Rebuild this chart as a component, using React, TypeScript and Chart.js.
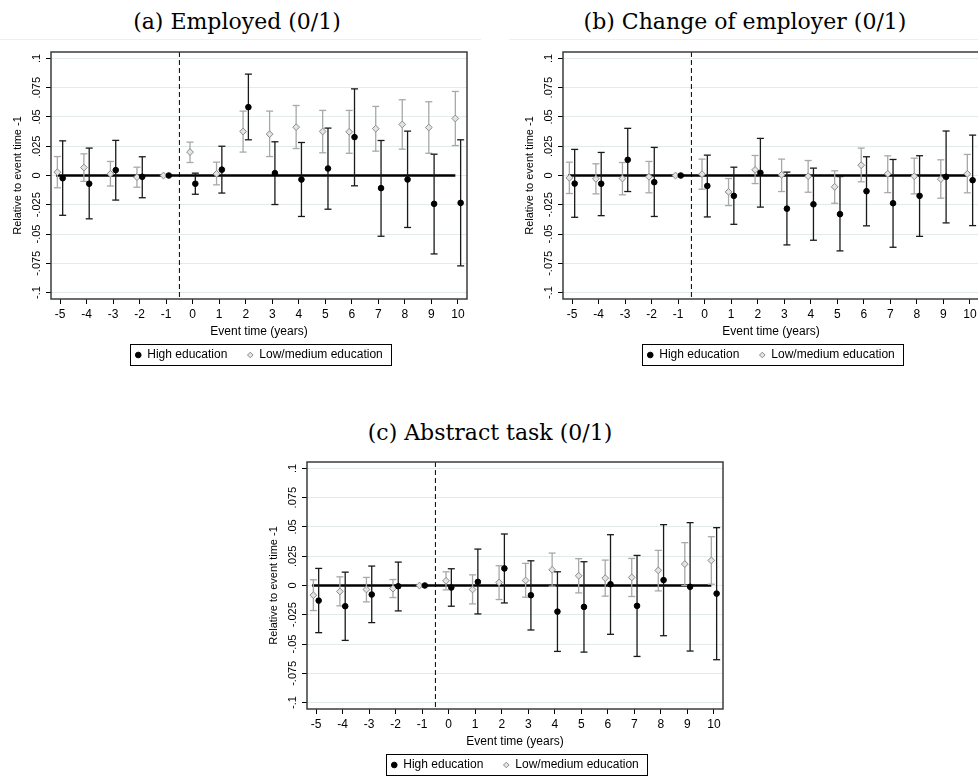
import { useEffect, useRef } from "react";
import { Chart, registerables } from "chart.js";

Chart.register(...registerables);

// event time (years) relative to the event
const EVENT_TIME = [-5, -4, -3, -2, -1, 0, 1, 2, 3, 4, 5, 6, 7, 8, 9, 10];
const Y_TICKS = [-0.1, -0.075, -0.05, -0.025, 0, 0.025, 0.05, 0.075, 0.1];
const TREATMENT_LINE = -0.5;
const ZERO_LINE_X = [-5.15, 9.9];
const HIGH_OFFSET = 0.1;
const LOW_OFFSET = -0.1;

// (a) Employed (0/1)
const EMP_HIGH = [-0.0023, -0.007, 0.0046, -0.0011, 0, -0.007, 0.005, 0.0584, 0.002, -0.0034, 0.006, 0.0328, -0.0108, -0.0034, -0.0242, -0.0234];
const EMP_HIGH_LO = [-0.034, -0.037, -0.021, -0.019, 0, -0.016, -0.015, 0.0305, -0.0248, -0.035, -0.0288, -0.0088, -0.0519, -0.0444, -0.067, -0.0772];
const EMP_HIGH_HI = [0.0296, 0.0234, 0.03, 0.016, 0, 0.002, 0.025, 0.0866, 0.0288, 0.0282, 0.0405, 0.074, 0.0299, 0.0379, 0.0182, 0.0305];
const EMP_LOW = [0.0028, 0.0068, 0.0014, -0.0014, 0, 0.02, 0.0014, 0.0376, 0.0353, 0.0413, 0.0376, 0.0373, 0.04, 0.0436, 0.041, 0.0487];
const EMP_LOW_LO = [-0.0105, -0.005, -0.009, -0.01, 0, 0.0111, -0.008, 0.02, 0.0162, 0.023, 0.0194, 0.019, 0.0208, 0.0225, 0.019, 0.0256];
const EMP_LOW_HI = [0.0162, 0.0185, 0.012, 0.0071, 0, 0.0285, 0.0114, 0.055, 0.055, 0.0598, 0.0556, 0.0556, 0.059, 0.0647, 0.063, 0.0718];

// (b) Change of employer (0/1)
const CHG_HIGH = [-0.0069, -0.007, 0.0134, -0.0057, 0, -0.0089, -0.0174, 0.0023, -0.0283, -0.0246, -0.033, -0.0134, -0.0237, -0.0174, -0.0011, -0.004];
const CHG_HIGH_LO = [-0.0357, -0.0343, -0.0137, -0.035, 0, -0.0354, -0.0417, -0.027, -0.0593, -0.0553, -0.0644, -0.043, -0.0613, -0.052, -0.0405, -0.0428];
const CHG_HIGH_HI = [0.0223, 0.0197, 0.0403, 0.024, 0, 0.0174, 0.0071, 0.0317, 0.0029, 0.0063, -0.0009, 0.016, 0.0137, 0.0169, 0.038, 0.0345];
const CHG_LOW = [-0.002, -0.0029, -0.0026, -0.0011, 0, 0.0011, -0.014, 0.0048, 0.0006, -0.0006, -0.0097, 0.0088, 0.0014, -0.0006, -0.0031, 0.0014];
const CHG_LOW_LO = [-0.0154, -0.0157, -0.0165, -0.0148, 0, -0.0117, -0.0257, -0.0069, -0.0137, -0.0143, -0.0237, -0.0054, -0.0146, -0.0157, -0.0194, -0.0148];
const CHG_LOW_HI = [0.0114, 0.01, 0.0111, 0.012, 0, 0.014, -0.0026, 0.0171, 0.014, 0.0128, 0.004, 0.0234, 0.0168, 0.0148, 0.0134, 0.018];

// (c) Abstract task (0/1)
const ABS_HIGH = [-0.0129, -0.0177, -0.0077, -0.0006, 0, -0.0017, 0.0031, 0.0146, -0.0083, -0.0223, -0.0183, 0.0011, -0.0174, 0.0046, -0.0011, -0.0069];
const ABS_HIGH_LO = [-0.0403, -0.0469, -0.0317, -0.0217, 0, -0.0177, -0.0243, -0.0149, -0.038, -0.0563, -0.0569, -0.0417, -0.0606, -0.0429, -0.056, -0.0634];
const ABS_HIGH_HI = [0.0146, 0.0114, 0.0166, 0.02, 0, 0.0143, 0.0311, 0.044, 0.0211, 0.0117, 0.0203, 0.0434, 0.0257, 0.052, 0.0537, 0.0494];
const ABS_LOW = [-0.0083, -0.0051, -0.0034, -0.0026, 0, 0.004, -0.0034, 0.0026, 0.0043, 0.0134, 0.0083, 0.0063, 0.0069, 0.0129, 0.0183, 0.0214];
const ABS_LOW_LO = [-0.0214, -0.0174, -0.014, -0.0103, 0, -0.0037, -0.0157, -0.012, -0.01, -0.0006, -0.0063, -0.0091, -0.0094, -0.0046, 0.0, 0.0011];
const ABS_LOW_HI = [0.0049, 0.0074, 0.0069, 0.0051, 0, 0.0117, 0.0091, 0.0169, 0.0189, 0.0277, 0.0229, 0.0217, 0.0231, 0.03, 0.0366, 0.0417];

const SANS = '"Liberation Sans", Arial, Helvetica, sans-serif';
const AXIS_W = 51;
const PAD_TOP = 12;
const CANVAS_W = 518;
const CANVAS_H = 331;

function errorBars(offset: number, lo: number[], hi: number[]) {
  return EVENT_TIME.flatMap((t, i) =>
    hi[i] > lo[i]
      ? [
          { x: t + offset, y: lo[i] },
          { x: t + offset, y: hi[i] },
          { x: t + offset, y: null },
        ]
      : []
  );
}

function fmtY(v: number) {
  if (v === 0) return "0";
  return (v < 0 ? "-" : "") + String(Math.abs(v)).replace(/^0/, "");
}

const decorPlugin = {
  id: "decor",
  beforeDatasetsDraw(chart: any) {
    const { ctx, chartArea, scales } = chart;
    const x = scales.x.getPixelForValue(TREATMENT_LINE);
    ctx.save();
    ctx.setLineDash([5, 3]);
    ctx.strokeStyle = "#000";
    ctx.lineWidth = 1;
    ctx.beginPath();
    ctx.moveTo(x, chartArea.top);
    ctx.lineTo(x, chartArea.bottom);
    ctx.stroke();
    ctx.restore();
  },
  afterDraw(chart: any) {
    const { ctx, chartArea } = chart;
    ctx.save();
    ctx.strokeStyle = "#3c3c3c";
    ctx.lineWidth = 1.5;
    ctx.strokeRect(chartArea.left, chartArea.top, chartArea.right - chartArea.left, chartArea.bottom - chartArea.top);
    const boxes = chart.legend?.legendHitBoxes || [];
    if (boxes.length) {
      const first = boxes[0];
      const last = boxes[boxes.length - 1];
      const left = first.left - 5;
      const right = last.left + last.width + 9;
      const top = first.top - 5;
      const h = first.height + 9;
      ctx.strokeStyle = "#000";
      ctx.lineWidth = 1;
      ctx.strokeRect(Math.round(left) + 0.5, Math.round(top) + 0.5, Math.round(right - left), Math.round(h));
    }
    ctx.restore();
  },
};

type PanelProps = {
  title: string;
  plotLeft: number;
  plotTop: number;
  titleCenter: number;
  titleTop: number;
  rule?: [number, number];
  high: number[];
  highLo: number[];
  highHi: number[];
  low: number[];
  lowLo: number[];
  lowHi: number[];
};

function Panel(p: PanelProps) {
  const canvasRef = useRef<HTMLCanvasElement>(null);
  const chartRef = useRef<Chart | null>(null);

  useEffect(() => {
    if (!canvasRef.current) return;
    const ctx = canvasRef.current.getContext("2d");
    if (!ctx) return;
    if (chartRef.current) chartRef.current.destroy();

    chartRef.current = new Chart(ctx, {
      type: "scatter",
      data: {
        datasets: [
          {
            label: "High education",
            data: EVENT_TIME.map((t, i) => ({ x: t + HIGH_OFFSET, y: p.high[i] })),
            pointStyle: "circle",
            pointRadius: 2.8,
            backgroundColor: "#000",
            borderColor: "#000",
            borderWidth: 1,
          },
          {
            label: "Low/medium education",
            data: EVENT_TIME.map((t, i) => ({ x: t + LOW_OFFSET, y: p.low[i] })),
            pointStyle: "rectRot",
            pointRadius: 3.4,
            backgroundColor: "#e4e4e4",
            borderColor: "#8a8a8a",
            borderWidth: 1,
          },
          {
            label: "high ci",
            data: errorBars(HIGH_OFFSET, p.highLo, p.highHi) as any,
            showLine: true,
            spanGaps: false,
            borderColor: "#1a1a1a",
            borderWidth: 1.3,
            pointStyle: "line",
            pointRadius: 3.5,
            pointBorderColor: "#1a1a1a",
            pointBorderWidth: 1.3,
          },
          {
            label: "low ci",
            data: errorBars(LOW_OFFSET, p.lowLo, p.lowHi) as any,
            showLine: true,
            spanGaps: false,
            borderColor: "#a8a8a8",
            borderWidth: 1.3,
            pointStyle: "line",
            pointRadius: 3.5,
            pointBorderColor: "#a8a8a8",
            pointBorderWidth: 1.3,
          },
          {
            label: "zero",
            data: ZERO_LINE_X.map((x) => ({ x, y: 0 })),
            showLine: true,
            borderColor: "#000",
            borderWidth: 2.6,
            pointRadius: 0,
          },
        ],
      },
      options: {
        animation: false,
        responsive: false,
        events: [],
        layout: { padding: { top: PAD_TOP, right: CANVAS_W - AXIS_W - 416, left: 0, bottom: 0 } },
        plugins: {
          legend: {
            position: "bottom",
            fullSize: false,
            labels: {
              usePointStyle: true,
              boxWidth: 6,
              boxHeight: 4,
              padding: 20,
              color: "#000",
              font: { family: SANS, size: 12 },
              filter: (item: any) => item.datasetIndex < 2,
            },
          },
          tooltip: { enabled: false },
        },
        scales: {
          x: {
            type: "linear",
            min: -5.34,
            max: 10.34,
            afterBuildTicks: (s: any) => {
              s.ticks = EVENT_TIME.map((v) => ({ value: v }));
            },
            afterFit: (s: any) => {
              s.height = 30;
            },
            ticks: {
              autoSkip: false,
              maxRotation: 0,
              padding: 3,
              color: "#000",
              font: { family: SANS, size: 12 },
              callback: (v: any) => String(v),
            },
            grid: { drawOnChartArea: false, tickLength: 5, tickColor: "#000", tickWidth: 1 },
            border: { display: false },
            title: {
              display: true,
              text: "Event time (years)",
              color: "#000",
              font: { family: SANS, size: 12 },
              padding: { top: 0, bottom: -10 },
            },
          },
          y: {
            type: "linear",
            min: -0.1055,
            max: 0.1055,
            afterBuildTicks: (s: any) => {
              s.ticks = Y_TICKS.map((v) => ({ value: v }));
            },
            afterFit: (s: any) => {
              s.width = AXIS_W;
            },
            ticks: {
              autoSkip: false,
              minRotation: 90,
              maxRotation: 90,
              crossAlign: "center",
              padding: -4,
              color: "#000",
              font: { family: SANS, size: 11 },
              callback: (v: any) => fmtY(Number(v)),
            },
            grid: { color: "#e3eaec", lineWidth: 1, tickLength: 5, tickColor: "#000", tickWidth: 1 },
            border: { display: false },
            title: {
              display: true,
              text: "Relative to event time -1",
              color: "#000",
              font: { family: SANS, size: 11 },
              padding: { top: 11, bottom: 0 },
            },
          },
        },
      },
      plugins: [decorPlugin],
    } as any);

    return () => {
      if (chartRef.current) {
        chartRef.current.destroy();
        chartRef.current = null;
      }
    };
  }, [p.high, p.highLo, p.highHi, p.low, p.lowLo, p.lowHi]);

  return (
    <>
      <div
        style={{
          position: "absolute",
          left: p.titleCenter - 250,
          width: 500,
          top: p.titleTop,
          textAlign: "center",
          fontFamily: '"DejaVu Serif", serif',
          fontSize: 22,
          lineHeight: "26px",
          color: "#000",
          whiteSpace: "nowrap",
        }}
      >
        {p.title}
      </div>
      {p.rule && (
        <div
          style={{
            position: "absolute",
            left: p.rule[0],
            width: p.rule[1] - p.rule[0],
            top: 39,
            height: 0,
            borderTop: "1px solid #efefef",
          }}
        />
      )}
      <canvas
        ref={canvasRef}
        width={CANVAS_W}
        height={CANVAS_H}
        style={{
          position: "absolute",
          left: p.plotLeft - AXIS_W,
          top: p.plotTop - PAD_TOP,
          width: CANVAS_W,
          height: CANVAS_H,
        }}
      />
    </>
  );
}

export default function App() {
  return (
    <div
      style={{
        position: "fixed",
        left: 0,
        top: 0,
        width: 978,
        height: 781,
        overflow: "hidden",
        background: "#fff",
      }}
    >
      <Panel
        title="(a) Employed (0/1)"
        plotLeft={51}
        plotTop={52}
        titleCenter={237}
        titleTop={9}
        rule={[0, 481]}
        high={EMP_HIGH}
        highLo={EMP_HIGH_LO}
        highHi={EMP_HIGH_HI}
        low={EMP_LOW}
        lowLo={EMP_LOW_LO}
        lowHi={EMP_LOW_HI}
      />
      <Panel
        title="(b) Change of employer (0/1)"
        plotLeft={563}
        plotTop={52}
        titleCenter={745}
        titleTop={9}
        rule={[509, 978]}
        high={CHG_HIGH}
        highLo={CHG_HIGH_LO}
        highHi={CHG_HIGH_HI}
        low={CHG_LOW}
        lowLo={CHG_LOW_LO}
        lowHi={CHG_LOW_HI}
      />
      <Panel
        title="(c) Abstract task (0/1)"
        plotLeft={307}
        plotTop={462}
        titleCenter={490}
        titleTop={420}
        high={ABS_HIGH}
        highLo={ABS_HIGH_LO}
        highHi={ABS_HIGH_HI}
        low={ABS_LOW}
        lowLo={ABS_LOW_LO}
        lowHi={ABS_LOW_HI}
      />
    </div>
  );
}
